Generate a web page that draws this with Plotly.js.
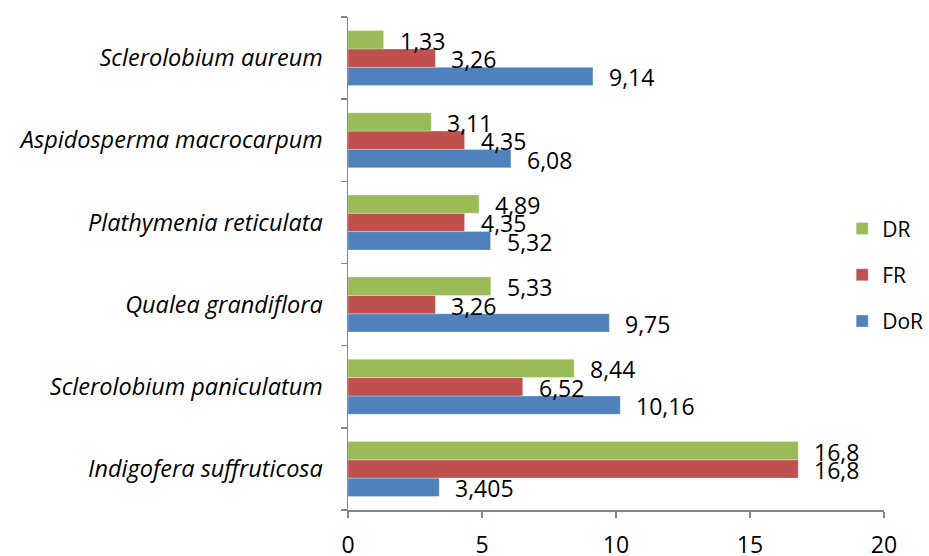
<!DOCTYPE html>
<html>
<head>
<meta charset="utf-8">
<script src="https://cdn.plot.ly/plotly-3.0.1.min.js"></script>
<style>html,body{margin:0;padding:0;background:#fff;}#chart{width:929px;height:556px;}</style>
</head>
<body>
<div id="chart"></div>
<script>
const categories = [
  "Indigofera suffruticosa",
  "Sclerolobium paniculatum",
  "Qualea grandiflora",
  "Plathymenia reticulata",
  "Aspidosperma macrocarpum",
  "Sclerolobium aureum"
];
const DoR = [3.405, 10.16, 9.75, 5.32, 6.08, 9.14];
const FR  = [16.8, 6.52, 3.26, 4.35, 4.35, 3.26];
const DR  = [16.8, 8.44, 5.33, 4.89, 3.11, 1.33];
const xTicks = [0, 5, 10, 15, 20];

const seriesDefs = [
  {name: "DoR", values: DoR, color: "#4F81BD", shift: -18.4, rank: 3},
  {name: "FR",  values: FR,  color: "#C0504D", shift: 0,     rank: 2},
  {name: "DR",  values: DR,  color: "#9BBB59", shift: 18.4,  rank: 1}
];

const fmt = v => String(v).replace('.', ',');

const traces = seriesDefs.map(s => ({
  type: 'bar',
  orientation: 'h',
  name: s.name,
  legendgroup: s.name,
  legendrank: s.rank,
  x: s.values,
  y: categories,
  marker: {color: s.color, line: {color: 'rgba(255,255,255,0.6)', width: 0.5}},
  hoverinfo: 'x+y'
}));

const annotations = [];
seriesDefs.forEach(s => {
  s.values.forEach((v, j) => {
    annotations.push({
      x: v, y: categories[j], xref: 'x', yref: 'y',
      text: fmt(v), showarrow: false,
      xanchor: 'left', yanchor: 'middle',
      xshift: 14, yshift: s.shift - 1,
      font: {family: 'Open Sans', size: 23, color: '#000'}
    });
  });
});

const layout = {
  width: 929, height: 556,
  margin: {l: 348, r: 45, t: 17, b: 46, pad: 0, autoexpand: false},
  paper_bgcolor: '#fff', plot_bgcolor: '#fff',
  font: {family: 'Open Sans', size: 23, color: '#000'},
  barmode: 'group', bargap: 0.33, bargroupgap: 0,
  xaxis: {
    range: [0, 20], tickvals: xTicks, ticktext: xTicks.map(String),
    showgrid: false, zeroline: false, automargin: false,
    showline: true, linecolor: '#868686', linewidth: 1.5,
    ticks: 'outside', ticklen: 6, tickcolor: '#868686', tickwidth: 1.5,
    ticklabelstandoff: 8,
    tickfont: {family: 'Open Sans', size: 23, color: '#000'},
    fixedrange: true
  },
  yaxis: {
    type: 'category', categoryorder: 'array', categoryarray: categories,
    showgrid: false, zeroline: false, automargin: false,
    showline: true, linecolor: '#868686', linewidth: 1.5,
    ticks: 'outside', ticklen: 6, tickcolor: '#868686', tickwidth: 1.5,
    tickson: 'boundaries',
    ticklabelstandoff: 19,
    tickfont: {family: 'Open Sans', size: 23.5, color: '#000', style: 'italic'},
    fixedrange: true
  },
  legend: {
    x: 0.922, y: 0.612, xanchor: 'left', yanchor: 'top',
    traceorder: 'grouped', tracegroupgap: 16,
    font: {family: 'Open Sans', size: 21, color: '#000'},
    bgcolor: 'rgba(255,255,255,0)'
  },
  annotations: annotations,
  showlegend: true
};

Plotly.newPlot('chart', traces, layout, {displayModeBar: false, staticPlot: true});
</script>
</body>
</html>
